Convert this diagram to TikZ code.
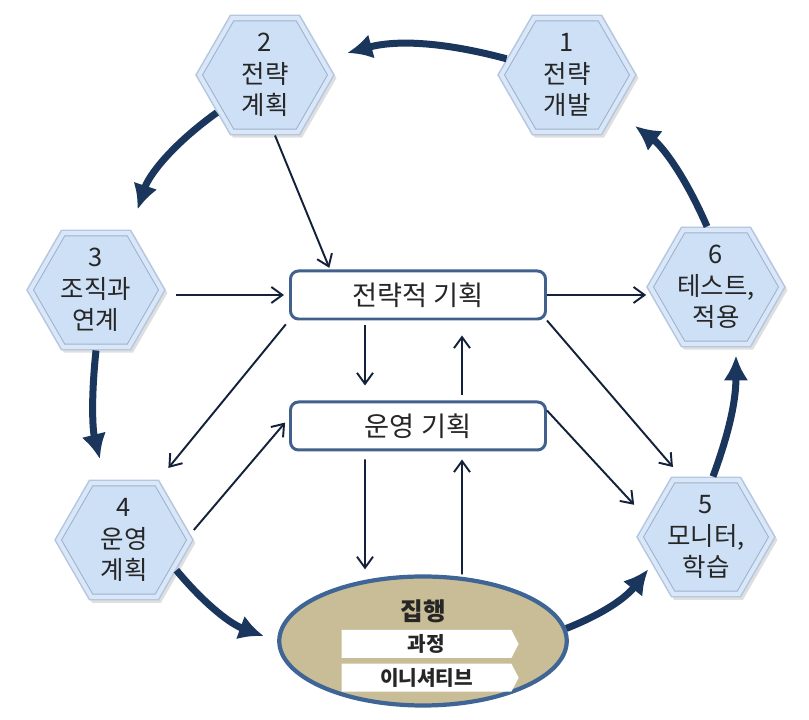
\documentclass[tikz,border=0pt]{standalone}
\usepackage{fontspec}
\setmainfont{Noto Sans CJK KR}
\usepackage{xcolor}
\usetikzlibrary{arrows.meta,positioning,shapes.geometric,shapes.symbols,shadows,calc}

\definecolor{hexfill}{HTML}{CEE0F6}
\definecolor{hexrim}{HTML}{DAE7F9}
\definecolor{hexedge}{HTML}{B3C7E0}
\definecolor{hexline}{HTML}{9DB2CD}
\definecolor{navy}{HTML}{1B365D}
\definecolor{ink}{HTML}{14213A}
\definecolor{boxedge}{HTML}{41618C}
\definecolor{tanfill}{HTML}{C8BD96}
\definecolor{ovaledge}{HTML}{3E6595}

\begin{document}
\begin{tikzpicture}[
    font=\fontsize{14.5}{18}\selectfont,
    hexa/.style={
        regular polygon,
        regular polygon sides=6,
        minimum size=2.76cm,
        inner sep=0pt,
        fill=hexrim,
        draw=hexedge,
        line width=0.8pt,
        align=center,
        text=black!85,
        drop shadow={shadow xshift=0.05cm, shadow yshift=-0.06cm, opacity=0.25},
        path picture={
            \node[regular polygon, regular polygon sides=6, minimum size=2.5cm,
                  fill=hexfill, draw=hexline, line width=0.5pt]
                at (path picture bounding box.center) {};
        }
    },
    plan/.style={
        rectangle,
        rounded corners=0.16cm,
        draw=boxedge,
        line width=1.7pt,
        fill=white,
        minimum width=5.1cm,
        minimum height=0.96cm,
        font=\fontsize{15.5}{18}\selectfont,
        text=black!85
    },
    oval/.style={
        ellipse,
        draw=ovaledge,
        line width=2.4pt,
        fill=tanfill,
        minimum width=5.75cm,
        minimum height=2.58cm
    },
    banner/.style={
        signal,
        signal to=east,
        signal pointer angle=125,
        fill=white,
        minimum width=3.54cm,
        minimum height=0.56cm,
        inner sep=0pt,
        font=\bfseries\fontsize{11.5}{13}\selectfont,
        text=black!85
    },
    bold arrow/.style={-{Latex[length=0.5cm,width=0.5cm]}, line width=0.14cm, draw=navy},
    arrow/.style={-{Straight Barb[length=0.22cm,width=0.32cm]}, line width=1.1pt, draw=ink}
]

\useasboundingbox (0,0) rectangle (16.18,14.4);

% cycle of hexagons
\node[hexa] (h1) at (11.34,12.90) {1\\전략\\개발};
\node[hexa] (h2) at (5.30,12.90) {2\\전략\\계획};
\node[hexa] (h3) at (1.92,8.60) {3\\조직과\\연계};
\node[hexa] (h4) at (2.48,3.60) {4\\운영\\계획};
\node[hexa] (h5) at (14.12,3.66) {5\\모니터,\\학습};
\node[hexa] (h6) at (14.32,8.66) {6\\테스트,\\적용};

% planning boxes
\node[plan] (strat) at (8.36,8.50) {전략적 기획};
\node[plan, below=1.6cm of strat] (ops) {운영 기획};

% execution
\node[oval] (exec) at (8.46,1.58) {};
\node[font=\bfseries\fontsize{14}{16}\selectfont, text=black!85] (exectitle) at ([yshift=0.6cm]exec.center) {집행};
\node[banner] (proc) at ([xshift=0.07cm,yshift=-0.06cm]exec.center) {과정};
\node[banner, below=0.1cm of proc] (init) {이니셔티브};

% outer cycle
\draw[bold arrow, shorten >=0.45cm] (h1.165) to[bend right=15] (h2.15);
\draw[bold arrow, shorten >=0.42cm] (h2.218) to[bend right=18] (h3.60);
\draw[bold arrow, shorten >=0.42cm] (h3.south) to[bend right=10] ([xshift=-0.38cm]h4.north);
\draw[bold arrow, shorten >=0.28cm] (h4.-30) to[bend right=15] (exec.west);
\draw[bold arrow, shorten >=0.12cm] (exec.5) to[bend right=15] (h5.207);
\draw[bold arrow, shorten >=0.16cm] ([xshift=0.14cm]h5.north) to[bend right=10] ([xshift=0.4cm]h6.south);
\draw[bold arrow, shorten >=0.48cm] ([xshift=-0.18cm]h6.north) to[bend right=15] (h1.-37);

% inner links
\draw[arrow, shorten >=1pt] ([xshift=0.2cm]h2.south) -- ([xshift=-1.76cm]strat.north);
\draw[arrow, shorten >=0.1cm] ($(h3.east |- strat.west)+(0.2,0)$) -- (strat.west);
\draw[arrow] (strat.east) -- (h6.west |- strat.east);
\draw[arrow, shorten <=0.1cm, shorten >=0.3cm] ([xshift=-1.06cm]strat.south) -- ([xshift=-1.06cm]ops.north);
\draw[arrow, shorten <=0.1cm, shorten >=0.3cm] ([xshift=0.88cm]ops.north) -- ([xshift=0.88cm]strat.south);
\draw[arrow, shorten <=0.1cm, shorten >=0.3cm] (strat.south west) -- (h4.60);
\draw[arrow, shorten >=0.12cm] ([yshift=0.2cm]h4.east) -- ([yshift=0.16cm]ops.west);
\draw[arrow, shorten >=0.25cm] (strat.south east) -- ([xshift=0.2cm]h5.120);
\draw[arrow, shorten >=0.06cm] ([yshift=-0.2cm]ops.north east) -- ([yshift=0.6cm]h5.west);
\draw[arrow, shorten <=0.16cm, shorten >=0.1cm] ([xshift=-1.06cm]ops.south) -- ($(ops.south |- exec.north)+(-1.06,0)$);
\draw[arrow, shorten >=0.16cm] ($(ops.south |- exec.north)+(0.88,0)$) -- ([xshift=0.88cm]ops.south);

\end{tikzpicture}
\end{document}
